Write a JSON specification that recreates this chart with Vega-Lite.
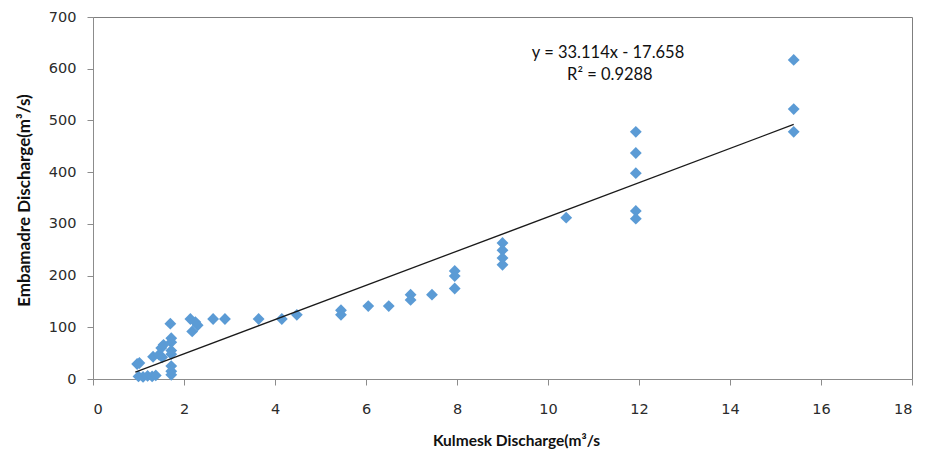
{
  "$schema": "https://vega.github.io/schema/vega-lite/v6.json",
  "width": 819,
  "height": 362,
  "autosize": {"type": "none"},
  "padding": {"left": 93, "top": 17, "right": 16, "bottom": 74},
  "background": "white",
  "config": {
    "view": {"stroke": "#7f7f7f", "strokeWidth": 1},
    "axis": {
      "grid": false,
      "domainColor": "#8c8c8c",
      "tickColor": "#8c8c8c",
      "tickSize": 6,
      "labelFont": "DejaVu Sans",
      "labelFontSize": 14.5,
      "labelColor": "#2b2b2b",
      "titleFont": "Lato",
      "titleFontWeight": "bold",
      "titleColor": "#111",
      "titleBaseline": "middle"
    }
  },
  "datasets": {
    "obs": [
      {"kulmesk": 0.97, "embamadre": 29},
      {"kulmesk": 1.02, "embamadre": 31},
      {"kulmesk": 1.0, "embamadre": 5},
      {"kulmesk": 1.1, "embamadre": 4},
      {"kulmesk": 1.2, "embamadre": 6},
      {"kulmesk": 1.3, "embamadre": 5},
      {"kulmesk": 1.38, "embamadre": 7},
      {"kulmesk": 1.32, "embamadre": 43},
      {"kulmesk": 1.45, "embamadre": 47},
      {"kulmesk": 1.5, "embamadre": 60},
      {"kulmesk": 1.55, "embamadre": 66},
      {"kulmesk": 1.52, "embamadre": 42},
      {"kulmesk": 1.7, "embamadre": 107},
      {"kulmesk": 1.72, "embamadre": 79},
      {"kulmesk": 1.72, "embamadre": 71},
      {"kulmesk": 1.72, "embamadre": 55},
      {"kulmesk": 1.72, "embamadre": 48},
      {"kulmesk": 1.72, "embamadre": 25},
      {"kulmesk": 1.72, "embamadre": 15},
      {"kulmesk": 1.72, "embamadre": 8},
      {"kulmesk": 2.14, "embamadre": 116},
      {"kulmesk": 2.18, "embamadre": 92},
      {"kulmesk": 2.25, "embamadre": 110},
      {"kulmesk": 2.3, "embamadre": 104},
      {"kulmesk": 2.64, "embamadre": 116},
      {"kulmesk": 2.9, "embamadre": 116},
      {"kulmesk": 3.64, "embamadre": 116},
      {"kulmesk": 4.15, "embamadre": 116},
      {"kulmesk": 4.48, "embamadre": 124},
      {"kulmesk": 5.45, "embamadre": 133},
      {"kulmesk": 5.45, "embamadre": 124},
      {"kulmesk": 6.05, "embamadre": 141},
      {"kulmesk": 6.5, "embamadre": 141},
      {"kulmesk": 6.98, "embamadre": 163},
      {"kulmesk": 6.98, "embamadre": 153},
      {"kulmesk": 7.45, "embamadre": 163},
      {"kulmesk": 7.95, "embamadre": 209},
      {"kulmesk": 7.95, "embamadre": 199},
      {"kulmesk": 7.95, "embamadre": 175},
      {"kulmesk": 9.0, "embamadre": 263},
      {"kulmesk": 9.0, "embamadre": 249},
      {"kulmesk": 9.0, "embamadre": 234},
      {"kulmesk": 9.0, "embamadre": 221},
      {"kulmesk": 10.4, "embamadre": 312},
      {"kulmesk": 11.93, "embamadre": 478},
      {"kulmesk": 11.93, "embamadre": 437},
      {"kulmesk": 11.93, "embamadre": 398},
      {"kulmesk": 11.93, "embamadre": 325},
      {"kulmesk": 11.93, "embamadre": 310},
      {"kulmesk": 15.4, "embamadre": 617},
      {"kulmesk": 15.4, "embamadre": 522},
      {"kulmesk": 15.4, "embamadre": 478}
    ],
    "trend": [
      {"kulmesk": 0.93, "embamadre": 13.1},
      {"kulmesk": 15.4, "embamadre": 492.3}
    ],
    "notes": [
      {"kulmesk": 11.32, "embamadre": 631, "label": "y = 33.114x - 17.658"},
      {"kulmesk": 11.36, "embamadre": 588, "label": "R² = 0.9288"}
    ]
  },
  "encoding": {
    "x": {
      "field": "kulmesk",
      "type": "quantitative",
      "scale": {"domain": [0, 18], "nice": false},
      "axis": {
        "values": [0, 2, 4, 6, 8, 10, 12, 14, 16, 18],
        "title": "Kulmesk Discharge(m³/s",
        "titleFontSize": 15.5,
        "labelPadding": 17,
        "titleX": 423,
        "titleY": 61
      }
    },
    "y": {
      "field": "embamadre",
      "type": "quantitative",
      "scale": {"domain": [0, 700], "nice": false},
      "axis": {
        "values": [0, 100, 200, 300, 400, 500, 600, 700],
        "title": "Embamadre  Discharge(m³/s)",
        "titleFontSize": 17,
        "labelPadding": 11,
        "titleX": -69,
        "titleY": 183
      }
    }
  },
  "layer": [
    {
      "data": {"name": "obs"},
      "mark": {"type": "point", "shape": "diamond", "filled": true, "size": 140, "color": "#5B9BD5", "opacity": 1}
    },
    {
      "data": {"name": "trend"},
      "mark": {"type": "line", "color": "#1a1a1a", "strokeWidth": 1.3}
    },
    {
      "data": {"name": "notes"},
      "mark": {"type": "text", "font": "Lato", "fontSize": 16.5, "color": "#111", "align": "center", "baseline": "middle"},
      "encoding": {"text": {"field": "label"}}
    }
  ]
}
